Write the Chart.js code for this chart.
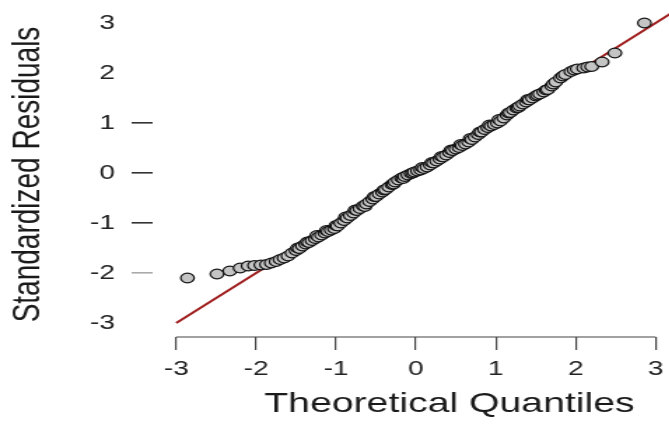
<!DOCTYPE html>
<html lang="en">
<head>
  <meta charset="UTF-8" />
  <title>Normal Q-Q plot</title>
  <script src="https://cdn.jsdelivr.net/npm/chart.js"></script>
  <style>
    body {
      margin: 0;
      background: #fff;
    }
    #wrap {
      width: 669px;
      height: 425px;
      overflow: hidden;
    }
    /* the original picture is stretched sideways, so the canvas is too;
       the plot region also runs past the right edge of the crop */
    #qq {
      transform: scaleX(1.4);
      transform-origin: 0 0;
    }
  </style>
</head>
<body>
  <div id="wrap">
    <canvas id="qq" width="539" height="425"></canvas>
  </div>

  <script>
    // theoretical quantiles (x) and standardized residuals (y)
    const theoretical = [
      -2.86, -2.49, -2.33, -2.20, -2.10, -2.02, -1.94, -1.87, -1.81, -1.75,
      -1.70, -1.65, -1.60, -1.55, -1.50, -1.48, -1.46, -1.42, -1.38, -1.36,
      -1.34, -1.30, -1.26, -1.24, -1.22, -1.18, -1.14, -1.12, -1.10, -1.06,
      -1.02, -1.00, -0.98, -0.94, -0.90, -0.88, -0.86, -0.82, -0.78, -0.76,
      -0.74, -0.70, -0.66, -0.64, -0.62, -0.58, -0.54, -0.52, -0.50, -0.46,
      -0.42, -0.40, -0.38, -0.34, -0.30, -0.28, -0.26, -0.22, -0.18, -0.16,
      -0.14, -0.10, -0.06, -0.04, -0.02, 0.02, 0.06, 0.08, 0.10, 0.14,
      0.18, 0.20, 0.22, 0.26, 0.30, 0.32, 0.34, 0.38, 0.42, 0.44,
      0.46, 0.50, 0.54, 0.56, 0.58, 0.62, 0.66, 0.68, 0.70, 0.74,
      0.78, 0.80, 0.82, 0.86, 0.90, 0.92, 0.94, 0.98, 1.02, 1.04,
      1.06, 1.10, 1.14, 1.16, 1.18, 1.22, 1.26, 1.28, 1.30, 1.34,
      1.38, 1.40, 1.42, 1.46, 1.50, 1.52, 1.55, 1.60, 1.63, 1.65,
      1.70, 1.72, 1.75, 1.81, 1.84, 1.87, 1.94, 1.98, 2.02, 2.10,
      2.15, 2.20, 2.33, 2.49, 2.86
    ];
    const residuals = [
      -2.10, -2.02, -1.96, -1.90, -1.86, -1.85, -1.84, -1.83, -1.80, -1.77,
      -1.73, -1.70, -1.66, -1.60, -1.55, -1.50, -1.51, -1.46, -1.42, -1.38,
      -1.39, -1.35, -1.31, -1.25, -1.28, -1.24, -1.20, -1.15, -1.17, -1.14,
      -1.11, -1.05, -1.06, -1.00, -0.95, -0.88, -0.90, -0.85, -0.80, -0.74,
      -0.75, -0.71, -0.66, -0.67, -0.62, -0.57, -0.52, -0.47, -0.47, -0.42,
      -0.38, -0.34, -0.33, -0.28, -0.23, -0.22, -0.18, -0.14, -0.10, -0.11,
      -0.07, -0.04, -0.01, 0.00, 0.02, 0.04, 0.06, 0.11, 0.09, 0.12,
      0.16, 0.21, 0.20, 0.24, 0.28, 0.33, 0.32, 0.36, 0.41, 0.46,
      0.45, 0.48, 0.51, 0.57, 0.55, 0.58, 0.62, 0.69, 0.67, 0.72,
      0.77, 0.82, 0.82, 0.87, 0.91, 0.96, 0.94, 0.97, 1.00, 1.07,
      1.04, 1.10, 1.16, 1.20, 1.21, 1.26, 1.30, 1.31, 1.34, 1.38,
      1.42, 1.47, 1.46, 1.50, 1.54, 1.56, 1.58, 1.62, 1.66, 1.67,
      1.74, 1.78, 1.82, 1.90, 1.94, 1.97, 2.03, 2.06, 2.08, 2.10,
      2.12, 2.13, 2.22, 2.40, 3.00
    ];

    // reference line y = x
    const lineX = [-3, 3.2];
    const lineY = [-3, 3.2];

    const xTicks = [-3, -2, -1, 0, 1, 2, 3];
    const yTicks = [-3, -2, -1, 0, 1, 2, 3];
    const yTicksWithMark = [1, 0, -1, -2];

    const font = 'Liberation Sans, Arial, sans-serif';

    // R style x axis: the line only runs from the first to the last tick
    const xAxisLine = {
      id: 'xAxisLine',
      afterDraw(chart) {
        const x = chart.scales.x;
        const ctx = chart.ctx;
        const y = chart.chartArea.bottom;
        ctx.save();
        ctx.strokeStyle = '#444';
        ctx.lineWidth = 1.2;
        ctx.beginPath();
        ctx.moveTo(x.getPixelForValue(xTicks[0]), y);
        ctx.lineTo(x.getPixelForValue(xTicks[xTicks.length - 1]), y);
        ctx.stroke();
        ctx.restore();
      }
    };

    const points = theoretical.map((v, i) => ({ x: v, y: residuals[i] }));
    const line = lineX.map((v, i) => ({ x: v, y: lineY[i] }));

    new Chart(document.getElementById('qq'), {
      type: 'scatter',
      data: {
        datasets: [
          {
            data: points,
            backgroundColor: '#c4c4c4',
            borderColor: '#111',
            borderWidth: 1.2,
            pointRadius: 4.8
          },
          {
            data: line,
            showLine: true,
            borderColor: '#9e1c1c',
            borderWidth: 2,
            pointRadius: 0
          }
        ]
      },
      options: {
        responsive: false,
        animation: false,
        layout: { padding: { top: 12, left: 0, right: 0, bottom: 0 } },
        plugins: {
          legend: { display: false },
          tooltip: { enabled: false }
        },
        scales: {
          x: {
            type: 'linear',
            min: -3.296,
            max: 4.134,
            afterBuildTicks: s => { s.ticks = xTicks.map(v => ({ value: v })); },
            afterFit: s => { s.height = 88; s.paddingLeft = 0; s.paddingRight = 0; },
            border: { display: false },
            grid: { drawOnChartArea: false, tickLength: 13, color: '#444', lineWidth: 1.2 },
            ticks: {
              padding: 7,
              color: '#222',
              font: { family: font, size: 20 },
              callback: v => v < 0 ? '-' + Math.abs(v) : String(v)
            },
            title: {
              display: true,
              text: 'Theoretical Quantiles',
              color: '#1a1a1a',
              font: { family: font, size: 28 },
              padding: { top: 0, bottom: 4 }
            }
          },
          y: {
            type: 'linear',
            min: -3.28,
            max: 3.22,
            afterBuildTicks: s => { s.ticks = yTicks.map(v => ({ value: v })); },
            afterFit: s => { s.width = 109; s.paddingTop = 0; s.paddingBottom = 0; },
            border: { display: false },
            grid: {
              drawOnChartArea: false,
              tickLength: 15,
              lineWidth: 1.6,
              tickColor: c => {
                if (!c.tick || !yTicksWithMark.includes(c.tick.value)) return 'rgba(0,0,0,0)';
                return c.tick.value === -2 ? '#aaa' : '#333';
              }
            },
            ticks: {
              padding: 12,
              color: '#222',
              font: { family: font, size: 20 },
              callback: v => v < 0 ? '-' + Math.abs(v) : String(v)
            },
            title: {
              display: true,
              text: 'Standardized Residuals',
              color: '#1a1a1a',
              font: { family: font, size: 28 },
              padding: { top: 3, bottom: 0 }
            }
          }
        }
      },
      plugins: [xAxisLine]
    });
  </script>
</body>
</html>
